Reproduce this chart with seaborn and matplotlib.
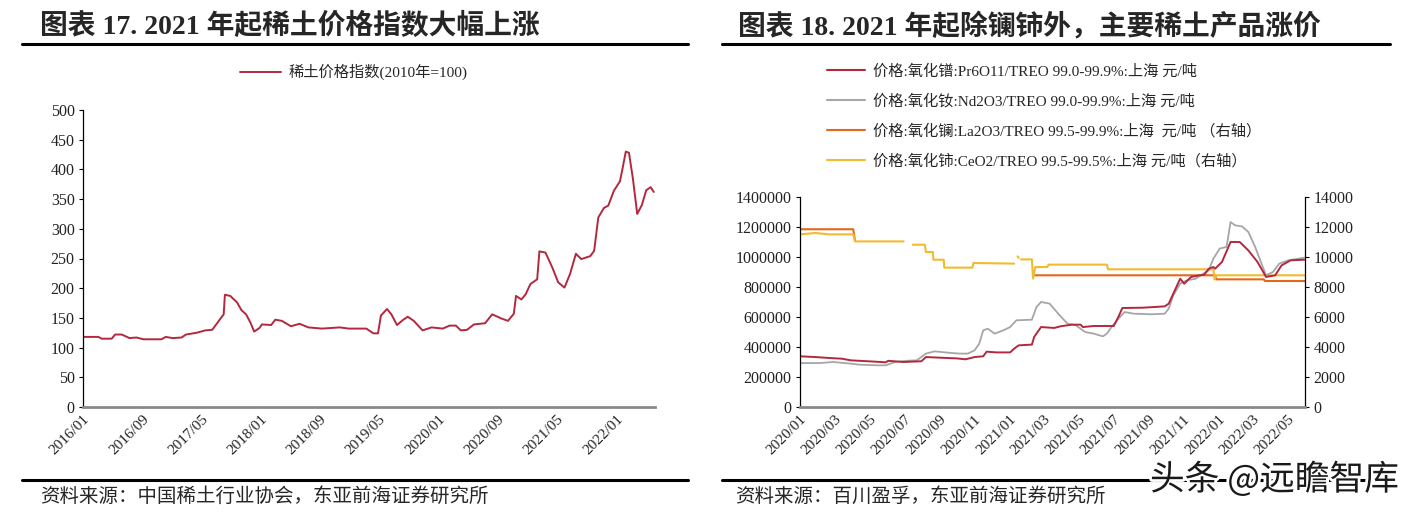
import numpy as np
import pandas as pd
import matplotlib
matplotlib.use("Agg")
import matplotlib.pyplot as plt
import matplotlib.dates as mdates
import matplotlib.patheffects as pe
from matplotlib.lines import Line2D
import seaborn as sns

sns.set_theme(style="white")
FAM = ["Liberation Serif", "Noto Sans CJK SC", "DejaVu Sans"]
plt.rcParams["font.family"] = FAM

# ---------------- data: chart 17 (rare earth price index, 2010=100) ----------------
idx_dates = [
    "2016-01-01", "2016-03-04", "2016-03-18", "2016-04-28", "2016-05-12", "2016-06-08",
    "2016-07-10", "2016-08-08", "2016-09-05", "2016-11-18", "2016-12-06", "2017-01-03",
    "2017-02-09", "2017-02-27", "2017-04-12", "2017-05-18", "2017-06-15", "2017-07-12",
    "2017-08-01", "2017-08-06", "2017-08-28", "2017-09-25", "2017-10-13", "2017-11-01",
    "2017-11-19", "2017-12-04", "2017-12-26", "2018-01-05", "2018-02-12", "2018-03-01",
    "2018-03-28", "2018-05-04", "2018-06-09", "2018-07-15", "2018-09-09", "2018-11-21",
    "2018-12-28", "2019-03-10", "2019-04-08", "2019-04-27", "2019-05-09", "2019-06-03",
    "2019-06-21", "2019-07-14", "2019-08-06", "2019-08-27", "2019-09-21", "2019-10-27",
    "2019-12-03", "2020-01-18", "2020-02-15", "2020-03-12", "2020-04-01", "2020-04-27",
    "2020-05-25", "2020-07-10", "2020-08-08", "2020-09-15", "2020-10-12", "2020-11-05",
    "2020-11-14", "2020-12-06", "2020-12-24", "2021-01-12", "2021-02-09", "2021-02-18",
    "2021-03-15", "2021-04-12", "2021-05-06", "2021-06-01", "2021-06-24", "2021-07-18",
    "2021-08-09", "2021-09-15", "2021-10-01", "2021-10-18", "2021-11-10", "2021-11-28",
    "2021-12-21", "2022-01-15", "2022-01-24", "2022-02-08", "2022-02-21", "2022-03-09",
    "2022-03-27", "2022-04-15", "2022-05-03", "2022-05-21", "2022-06-03",
]
idx_values = [
    118, 118, 115, 115, 122, 122,
    116, 117, 114, 114, 118, 116,
    117, 122, 125, 129, 130, 145,
    156, 189, 187, 176, 163, 156,
    142, 127, 133, 139, 138, 147,
    145, 136, 140, 134, 132, 134,
    132, 132, 124, 124, 154, 165,
    156, 138, 146, 152, 145, 129,
    134, 132, 137, 137, 129, 130,
    139, 141, 156, 149, 145, 157,
    187, 181, 190, 207, 215, 262,
    260, 235, 210, 201, 224, 258,
    249, 254, 263, 319, 335, 339,
    364, 380, 398, 430, 428, 385,
    325, 340, 365, 370, 362,
]
idx_label = "稀土价格指数(2010年=100)"
idx_ticks = ["2016-01-01", "2016-09-01", "2017-05-01", "2018-01-01", "2018-09-01",
             "2019-05-01", "2020-01-01", "2020-09-01", "2021-05-01", "2022-01-01"]

# ---------------- data: chart 18 (oxide prices, days since 2020-01-01) ----------------
base_date = "2020-01-01"
pr_days = [0, 27, 50, 73, 89, 123, 150, 154, 181, 212, 220, 243, 274, 289, 305, 320,
           326, 343, 367, 374, 382, 405, 409, 421, 444, 455, 475, 490, 494, 513, 548,
           556, 563, 598, 621, 637, 644, 652, 664, 671, 683, 698, 706, 714, 722, 725,
           737, 752, 768, 783, 799, 814, 830, 841, 857, 882]
pr_values = [338000, 333000, 327000, 322000, 311000, 304000, 298000, 308000, 300000,
             305000, 333000, 329000, 324000, 318000, 333000, 338000, 369000, 364000,
             364000, 389000, 411000, 416000, 467000, 533000, 527000, 538000, 549000,
             549000, 533000, 540000, 540000, 600000, 660000, 662000, 667000, 671000,
             689000, 756000, 855000, 822000, 867000, 878000, 882000, 922000, 933000,
             922000, 967000, 1100000, 1100000, 1044000, 967000, 867000, 878000, 944000,
             978000, 982000]
nd_days = [0, 35, 58, 89, 104, 135, 150, 166, 189, 204, 220, 235, 259, 278, 293, 305,
           313, 320, 328, 340, 355, 367, 378, 405, 413, 421, 436, 451, 467, 482, 498,
           513, 529, 536, 544, 556, 567, 583, 613, 637, 644, 652, 664, 675, 691, 706,
           714, 722, 733, 745, 752, 760, 772, 783, 795, 806, 814, 826, 837, 853, 882]
nd_values = [293000, 293000, 300000, 289000, 282000, 278000, 278000, 300000, 309000,
             311000, 356000, 371000, 362000, 356000, 356000, 378000, 422000, 511000,
             522000, 489000, 511000, 533000, 578000, 582000, 667000, 700000, 689000,
             622000, 556000, 544000, 500000, 489000, 471000, 489000, 533000, 589000,
             633000, 622000, 618000, 622000, 656000, 744000, 822000, 844000, 855000,
             893000, 911000, 989000, 1056000, 1067000, 1233000, 1211000, 1204000,
             1167000, 1067000, 956000, 878000, 900000, 956000, 978000, 996000]
la_days = [0, 93, 96, 409, 725, 727, 810, 812, 882]
la_values = [11850, 11850, 11100, 8780, 8780, 8510, 8510, 8400, 8400]
la_segment = [0, 0, 0, 1, 1, 1, 1, 1, 1]
ce_days = [0, 27, 50, 93, 96, 181, 197, 218, 220, 232, 233, 251, 252, 301, 303, 374,
           380, 382, 386, 405, 407, 411, 432, 434, 536, 538, 722, 724, 727, 882]
ce_values = [11510, 11600, 11510, 11510, 11040, 11040, 10820, 10820, 10330, 10330,
             9820, 9820, 9290, 9290, 9600, 9560, 10040, 9950, 9840, 9840, 8560, 9330,
             9330, 9490, 9490, 9180, 9180, 8500, 8780, 8780]
ce_segment = [0, 0, 0, 0, 0, 0, 1, 1, 1, 1, 1, 1, 1, 1, 1, 1, 2, 2, 3, 3, 3, 3, 3, 3,
              3, 3, 3, 3, 3, 3]
series_labels = [
    "价格:氧化镨:Pr6O11/TREO 99.0-99.9%:上海 元/吨",
    "价格:氧化钕:Nd2O3/TREO 99.0-99.9%:上海 元/吨",
    "价格:氧化镧:La2O3/TREO 99.5-99.9%:上海  元/吨 （右轴）",
    "价格:氧化铈:CeO2/TREO 99.5-99.5%:上海 元/吨（右轴）",
]

title_left = "图表 17. 2021 年起稀土价格指数大幅上涨"
title_right = "图表 18. 2021 年起除镧铈外，主要稀土产品涨价"
source_left = "资料来源：中国稀土行业协会，东亚前海证券研究所"
source_right = "资料来源：百川盈孚，东亚前海证券研究所"
watermark = "头条 @远瞻智库"

RED = "#B3283E"
GREY = "#A6A6A6"
ORANGE = "#E2691B"
YELLOW = "#F2BA2E"

# ---------------- figure ----------------
W, H = 1423, 514
fig = plt.figure(figsize=(W / 100, H / 100), dpi=100)
fig.patch.set_facecolor("white")


def fx(px):
    return px / W


def fy(py):
    return 1 - py / H


def rule(x0, x1, y, lw=2.2):
    fig.add_artist(Line2D([fx(x0), fx(x1)], [fy(y), fy(y)], color="black", lw=lw,
                          transform=fig.transFigure))


def style_axis(ax, left=True, right=False):
    for s in ["top", "right", "left", "bottom"]:
        ax.spines[s].set_visible(False)
    ax.spines["bottom"].set_visible(True)
    ax.spines["bottom"].set_color("#8A8A8A")
    ax.spines["bottom"].set_linewidth(2.0)
    if left:
        ax.spines["left"].set_visible(True)
        ax.spines["left"].set_color("black")
        ax.spines["left"].set_linewidth(0.9)
    if right:
        ax.spines["right"].set_visible(True)
        ax.spines["right"].set_color("black")
        ax.spines["right"].set_linewidth(0.9)
    ax.set_facecolor("none")
    ax.grid(False)
    ax.set_xlabel("")
    ax.set_ylabel("")


# ----- left chart -----
df_idx = pd.DataFrame({"date": pd.to_datetime(idx_dates), "value": idx_values})
ax1 = fig.add_axes([fx(83), fy(407), fx(655) - fx(83), (407 - 110) / H])
sns.lineplot(data=df_idx, x="date", y="value", ax=ax1, color=RED, lw=1.4,
             estimator=None, legend=False)
ax1.set_xlim(pd.Timestamp("2016-01-01"), pd.Timestamp("2022-06-08"))
ax1.set_ylim(0, 500)
ax1.set_yticks(np.arange(0, 501, 50))
ax1.set_xticks(pd.to_datetime(idx_ticks))
ax1.xaxis.set_major_formatter(mdates.DateFormatter("%Y/%m"))
style_axis(ax1)
ax1.tick_params(axis="y", direction="out", length=3, width=0.8, color="black",
                labelsize=11.5, pad=3, left=True, labelcolor="#222222")
ax1.tick_params(axis="x", length=0, labelsize=11, pad=4, labelcolor="#222222")
for lbl in ax1.get_xticklabels():
    lbl.set_rotation(45)
    lbl.set_ha("right")
    lbl.set_rotation_mode("anchor")
fig.legend([Line2D([], [], color=RED, lw=1.4)], [idx_label], loc="upper left",
           bbox_to_anchor=(fx(240), fy(64)), frameon=False, fontsize=11,
           handlelength=2.7, handletextpad=0.5, borderpad=0, borderaxespad=0)

# ----- right chart -----
base = pd.Timestamp(base_date)
df_pr = pd.DataFrame({"date": base + pd.to_timedelta(pr_days, unit="D"), "value": pr_values})
df_nd = pd.DataFrame({"date": base + pd.to_timedelta(nd_days, unit="D"), "value": nd_values})
df_la = pd.DataFrame({"date": base + pd.to_timedelta(la_days, unit="D"), "value": la_values,
                      "seg": la_segment})
df_ce = pd.DataFrame({"date": base + pd.to_timedelta(ce_days, unit="D"), "value": ce_values,
                      "seg": ce_segment})

ax2 = fig.add_axes([fx(800), fy(407), (1305 - 800) / W, (407 - 197) / H])
ax3 = ax2.twinx()
sns.lineplot(data=df_la, x="date", y="value", units="seg", estimator=None, ax=ax3,
             color=ORANGE, lw=1.5, legend=False, sort=False)
sns.lineplot(data=df_ce, x="date", y="value", units="seg", estimator=None, ax=ax3,
             color=YELLOW, lw=1.5, legend=False, sort=False)
sns.lineplot(data=df_nd, x="date", y="value", ax=ax2, color=GREY, lw=1.3,
             estimator=None, legend=False)
sns.lineplot(data=df_pr, x="date", y="value", ax=ax2, color=RED, lw=1.4,
             estimator=None, legend=False)
ax2.set_zorder(3)
ax3.set_zorder(2)
ax2.patch.set_visible(False)

ax2.set_xlim(base, pd.Timestamp("2022-06-01"))
ax2.set_ylim(0, 1400000)
ax2.set_yticks(np.arange(0, 1400001, 200000))
ax2.yaxis.set_major_formatter(matplotlib.ticker.FuncFormatter(lambda v, p: f"{int(v)}"))
ax3.set_ylim(0, 14000)
ax3.set_yticks(np.arange(0, 14001, 2000))
ax2.xaxis.set_major_locator(mdates.MonthLocator(bymonth=[1, 3, 5, 7, 9, 11]))
ax2.xaxis.set_major_formatter(mdates.DateFormatter("%Y/%m"))
style_axis(ax2, left=True)
style_axis(ax3, left=False, right=True)
ax3.spines["bottom"].set_visible(False)
ax2.tick_params(axis="y", direction="out", length=3, width=0.8, color="black",
                labelsize=11.5, pad=3, left=True, labelcolor="#222222")
ax3.tick_params(axis="y", direction="out", length=3, width=0.8, color="black",
                labelsize=11.5, pad=3, right=True, labelcolor="#222222")
ax2.tick_params(axis="x", length=0, labelsize=11, pad=4, labelcolor="#222222")
for lbl in ax2.get_xticklabels():
    lbl.set_rotation(45)
    lbl.set_ha("right")
    lbl.set_rotation_mode("anchor")

handles = [Line2D([], [], color=c, lw=1.5) for c in (RED, GREY, ORANGE, YELLOW)]
fig.legend(handles, series_labels, loc="upper left", bbox_to_anchor=(fx(827), fy(64)),
           frameon=False, fontsize=11, handlelength=2.5, handletextpad=0.5,
           labelspacing=1.0, borderpad=0, borderaxespad=0)

# ----- titles, rules, sources -----
fig.text(fx(40), fy(26), title_left, fontsize=20, fontweight="bold", va="center", ha="left")
fig.text(fx(738), fy(26), title_right, fontsize=20, fontweight="bold", va="center", ha="left")
rule(22, 688, 44)
rule(722, 1390, 44)
rule(22, 688, 480)
rule(722, 1390, 480)
fig.text(fx(40), fy(496), source_left, fontsize=14, va="center", ha="left")
fig.text(fx(735), fy(496), source_right, fontsize=14, va="center", ha="left")
wm = fig.text(fx(1150), fy(480), watermark, fontsize=25, va="center", ha="left",
              family=["Noto Sans CJK SC", "DejaVu Sans"], color="#1a1a1a")
wm.set_path_effects([pe.withStroke(linewidth=4, foreground="white")])

fig.savefig("out.png", dpi=100, facecolor="white")
